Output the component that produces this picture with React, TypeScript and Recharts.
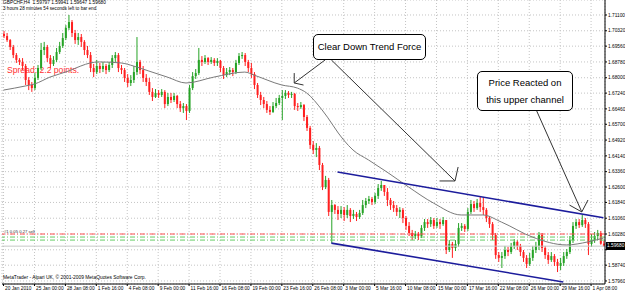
import React from 'react';
import { ComposedChart, Bar, Line, XAxis, YAxis, CartesianGrid, ReferenceLine } from 'recharts';

// GBPCHF H4 candles (oldest first)
const opens = [
  1.7016, 1.7006, 1.6986, 1.6952, 1.6912, 1.6888, 1.6878, 1.6858, 1.6789, 1.6764,
  1.6749, 1.6799, 1.6848, 1.6937, 1.6952, 1.6897, 1.6868, 1.6888, 1.6927, 1.6957,
  1.6996, 1.7046, 1.7075, 1.7021, 1.6986, 1.7001, 1.6977, 1.6937, 1.6912, 1.6848,
  1.6828, 1.6858, 1.6843, 1.6858, 1.6838, 1.6863, 1.6897, 1.6912, 1.6848, 1.6838,
  1.6799, 1.6774, 1.6789, 1.6828, 1.6878, 1.6838, 1.6799, 1.6779, 1.6730, 1.6705,
  1.6725, 1.6715, 1.6730, 1.6670, 1.6705, 1.6690, 1.6710, 1.6670, 1.6650, 1.6660,
  1.6636, 1.6749, 1.6808, 1.6823, 1.6888, 1.6878, 1.6897, 1.6878, 1.6888, 1.6873,
  1.6883, 1.6848, 1.6813, 1.6828, 1.6838, 1.6828, 1.6873, 1.6907, 1.6912, 1.6878,
  1.6848, 1.6818, 1.6764, 1.6715, 1.6690, 1.6670, 1.6641, 1.6631, 1.6660, 1.6675,
  1.6700, 1.6710, 1.6725, 1.6715, 1.6720, 1.6660, 1.6655, 1.6665, 1.6606, 1.6552,
  1.6468, 1.6443, 1.6453, 1.6369, 1.6260, 1.6295, 1.6137, 1.6171, 1.6147, 1.6127,
  1.6147, 1.6122, 1.6147, 1.6117, 1.6127, 1.6112, 1.6132, 1.6171, 1.6191, 1.6201,
  1.6186, 1.6216, 1.6255, 1.6270, 1.6236, 1.6196, 1.6171, 1.6156, 1.6137, 1.6147,
  1.6107, 1.6068, 1.6033, 1.6018, 1.6028, 1.6018, 1.6058, 1.6087, 1.6077, 1.6097,
  1.6068, 1.6087, 1.6077, 1.6097, 1.5949, 1.5979, 1.5959, 1.5979, 1.6058, 1.6068,
  1.6053, 1.6137, 1.6176, 1.6156, 1.6181, 1.6161, 1.6147, 1.6107, 1.6077, 1.6023,
  1.5924, 1.5910, 1.5919, 1.5949, 1.5939, 1.5969, 1.5989, 1.5969, 1.5939, 1.5910,
  1.5880, 1.5910, 1.5949, 1.5969, 1.6023, 1.5959, 1.5924, 1.5900, 1.5919, 1.5890,
  1.5870, 1.5885, 1.5919, 1.5939, 1.5998, 1.6068, 1.6087, 1.6072, 1.6097, 1.6077,
  1.5979, 1.5998, 1.6018, 1.6033, 1.5980,
];

const highs = [
  1.7031, 1.7021, 1.6991, 1.6962, 1.6922, 1.6897, 1.6897, 1.6868, 1.6803, 1.6779,
  1.6823, 1.6863, 1.6972, 1.6977, 1.6962, 1.6912, 1.6907, 1.6947, 1.6977, 1.7021,
  1.7060, 1.7110, 1.7085, 1.7036, 1.7021, 1.7016, 1.6986, 1.6957, 1.6927, 1.6868,
  1.6888, 1.6873, 1.6878, 1.6868, 1.6878, 1.6912, 1.6927, 1.6922, 1.6863, 1.6848,
  1.6818, 1.6813, 1.6858, 1.7001, 1.6888, 1.6858, 1.6818, 1.6799, 1.6749, 1.6744,
  1.6739, 1.6744, 1.6739, 1.6725, 1.6725, 1.6725, 1.6715, 1.6685, 1.6675, 1.6670,
  1.6764, 1.6828, 1.6843, 1.6947, 1.6907, 1.6912, 1.6902, 1.6902, 1.6897, 1.6897,
  1.6888, 1.6858, 1.6848, 1.6853, 1.6848, 1.6888, 1.6922, 1.6927, 1.6922, 1.6888,
  1.6873, 1.6828, 1.6774, 1.6730, 1.6705, 1.6685, 1.6660, 1.6680, 1.6700, 1.6715,
  1.6739, 1.6739, 1.6734, 1.6730, 1.6725, 1.6675, 1.6680, 1.6670, 1.6616, 1.6562,
  1.6487, 1.6477, 1.6463, 1.6379, 1.6315, 1.6305, 1.6196, 1.6176, 1.6166, 1.6166,
  1.6161, 1.6171, 1.6156, 1.6147, 1.6137, 1.6147, 1.6196, 1.6206, 1.6216, 1.6211,
  1.6231, 1.6275, 1.6290, 1.6270, 1.6255, 1.6206, 1.6191, 1.6171, 1.6161, 1.6156,
  1.6117, 1.6087, 1.6048, 1.6043, 1.6038, 1.6072, 1.6102, 1.6102, 1.6112, 1.6107,
  1.6107, 1.6102, 1.6112, 1.6097, 1.5998, 1.5989, 1.5998, 1.6082, 1.6082, 1.6077,
  1.6156, 1.6196, 1.6191, 1.6201, 1.6211, 1.6211, 1.6156, 1.6117, 1.6087, 1.6033,
  1.5939, 1.5939, 1.5969, 1.5964, 1.5984, 1.6003, 1.5998, 1.5979, 1.5949, 1.5924,
  1.5934, 1.5969, 1.5989, 1.6038, 1.6033, 1.5969, 1.5939, 1.5939, 1.5929, 1.5905,
  1.5910, 1.5939, 1.5954, 1.6018, 1.6087, 1.6102, 1.6102, 1.6122, 1.6107, 1.6087,
  1.6028, 1.6038, 1.6048, 1.6043, 1.5994,
];

const lows = [
  1.6996, 1.6977, 1.6937, 1.6897, 1.6873, 1.6863, 1.6838, 1.6764, 1.6739, 1.6730,
  1.6739, 1.6789, 1.6838, 1.6912, 1.6878, 1.6848, 1.6858, 1.6878, 1.6917, 1.6947,
  1.6986, 1.7036, 1.7001, 1.6967, 1.6962, 1.6952, 1.6912, 1.6897, 1.6828, 1.6803,
  1.6818, 1.6823, 1.6828, 1.6818, 1.6828, 1.6848, 1.6878, 1.6828, 1.6818, 1.6779,
  1.6754, 1.6759, 1.6774, 1.6813, 1.6818, 1.6779, 1.6759, 1.6715, 1.6685, 1.6700,
  1.6700, 1.6705, 1.6650, 1.6660, 1.6675, 1.6680, 1.6650, 1.6631, 1.6626, 1.6591,
  1.6626, 1.6739, 1.6794, 1.6813, 1.6858, 1.6868, 1.6863, 1.6868, 1.6858, 1.6858,
  1.6828, 1.6794, 1.6803, 1.6813, 1.6808, 1.6818, 1.6863, 1.6893, 1.6858, 1.6828,
  1.6799, 1.6744, 1.6700, 1.6665, 1.6650, 1.6626, 1.6616, 1.6626, 1.6650, 1.6665,
  1.6591, 1.6695, 1.6700, 1.6700, 1.6641, 1.6636, 1.6646, 1.6586, 1.6537, 1.6448,
  1.6423, 1.6408, 1.6344, 1.6245, 1.6250, 1.6117, 1.5984, 1.6127, 1.6097, 1.6107,
  1.6092, 1.6107, 1.6087, 1.6102, 1.6092, 1.6102, 1.6122, 1.6156, 1.6176, 1.6171,
  1.6176, 1.6201, 1.6241, 1.6216, 1.6166, 1.6147, 1.6137, 1.6117, 1.6107, 1.6082,
  1.6048, 1.6018, 1.5998, 1.6003, 1.5998, 1.6008, 1.6043, 1.6058, 1.6063, 1.6053,
  1.6058, 1.6053, 1.6068, 1.5929, 1.5939, 1.5910, 1.5944, 1.5964, 1.6043, 1.6038,
  1.6043, 1.6127, 1.6137, 1.6147, 1.6137, 1.6122, 1.6087, 1.6058, 1.5998, 1.5905,
  1.5890, 1.5860, 1.5905, 1.5919, 1.5929, 1.5954, 1.5949, 1.5919, 1.5890, 1.5860,
  1.5870, 1.5895, 1.5934, 1.5949, 1.5939, 1.5905, 1.5880, 1.5890, 1.5870, 1.5840,
  1.5850, 1.5870, 1.5905, 1.5929, 1.5984, 1.6053, 1.6058, 1.6063, 1.6058, 1.5924,
  1.5964, 1.5984, 1.5998, 1.5975, 1.5965,
];

const closes = [
  1.7006, 1.6986, 1.6952, 1.6912, 1.6888, 1.6878, 1.6858, 1.6789, 1.6764, 1.6749,
  1.6799, 1.6848, 1.6937, 1.6952, 1.6897, 1.6868, 1.6888, 1.6927, 1.6957, 1.6996,
  1.7046, 1.7075, 1.7021, 1.6986, 1.7001, 1.6977, 1.6937, 1.6912, 1.6848, 1.6828,
  1.6858, 1.6843, 1.6858, 1.6838, 1.6863, 1.6897, 1.6912, 1.6848, 1.6838, 1.6799,
  1.6774, 1.6789, 1.6828, 1.6878, 1.6838, 1.6799, 1.6779, 1.6730, 1.6705, 1.6725,
  1.6715, 1.6730, 1.6670, 1.6705, 1.6690, 1.6710, 1.6670, 1.6650, 1.6660, 1.6636,
  1.6749, 1.6808, 1.6823, 1.6888, 1.6878, 1.6897, 1.6878, 1.6888, 1.6873, 1.6883,
  1.6848, 1.6813, 1.6828, 1.6838, 1.6828, 1.6873, 1.6907, 1.6912, 1.6878, 1.6848,
  1.6818, 1.6764, 1.6715, 1.6690, 1.6670, 1.6641, 1.6631, 1.6660, 1.6675, 1.6700,
  1.6710, 1.6725, 1.6715, 1.6720, 1.6660, 1.6655, 1.6665, 1.6606, 1.6552, 1.6468,
  1.6443, 1.6453, 1.6369, 1.6260, 1.6295, 1.6137, 1.6171, 1.6147, 1.6127, 1.6147,
  1.6122, 1.6147, 1.6117, 1.6127, 1.6112, 1.6132, 1.6171, 1.6191, 1.6201, 1.6186,
  1.6216, 1.6255, 1.6270, 1.6236, 1.6196, 1.6171, 1.6156, 1.6137, 1.6147, 1.6107,
  1.6068, 1.6033, 1.6018, 1.6028, 1.6018, 1.6058, 1.6087, 1.6077, 1.6097, 1.6068,
  1.6087, 1.6077, 1.6097, 1.5949, 1.5979, 1.5959, 1.5979, 1.6058, 1.6068, 1.6053,
  1.6137, 1.6176, 1.6156, 1.6181, 1.6161, 1.6147, 1.6107, 1.6077, 1.6023, 1.5924,
  1.5910, 1.5919, 1.5949, 1.5939, 1.5969, 1.5989, 1.5969, 1.5939, 1.5910, 1.5880,
  1.5910, 1.5949, 1.5969, 1.6023, 1.5959, 1.5924, 1.5900, 1.5919, 1.5890, 1.5870,
  1.5885, 1.5919, 1.5939, 1.5998, 1.6068, 1.6087, 1.6072, 1.6097, 1.6077, 1.5979,
  1.5998, 1.6018, 1.6033, 1.5980, 1.5968,
];

// moving average, read at a few bars and joined
const maBars = [0, 7, 10, 15, 21, 25, 28, 31, 38, 42, 47, 53, 59, 68, 78, 81, 90, 95, 98, 103, 110, 113, 118, 124, 131, 139, 148, 155, 161, 171, 182, 189, 194];
const maValues = [1.6739, 1.6759, 1.6769, 1.6803, 1.6833, 1.6858, 1.6873, 1.6878, 1.6873, 1.6858, 1.6833, 1.6803, 1.6774, 1.6803, 1.6828, 1.6813, 1.6764, 1.6749, 1.6725, 1.6641, 1.6492, 1.6443, 1.6394, 1.6334, 1.6260, 1.6181, 1.6122, 1.6122, 1.6087, 1.6013, 1.5974, 1.5989, 1.6008];

const timeLabels = [
  '20 Jan 2010', '25 Jan 00:00', '28 Jan 08:00', '1 Feb 16:00', '4 Feb 08:00', '9 Feb 00:00',
  '11 Feb 16:00', '16 Feb 08:00', '19 Feb 00:00', '23 Feb 16:00', '26 Feb 08:00', '3 Mar 00:00',
  '5 Mar 16:00', '10 Mar 08:00', '15 Mar 00:00', '17 Mar 16:00', '22 Mar 08:00', '26 Mar 00:00',
  '29 Mar 16:00', '1 Apr 08:00',
];

const priceTicks = [1.711, 1.7032, 1.6956, 1.6878, 1.68, 1.6724, 1.6646, 1.657, 1.6492, 1.6414, 1.6336, 1.626, 1.6184, 1.6106, 1.6028, 1.595, 1.5874, 1.5796];

const lastPrice = 1.5968;
const sellLevel = 1.6028;
const greenLevels = [1.6013, 1.5998];

const GREEN = '#26a326';
const RED = '#ff1f1f';
const FONT = '"Liberation Sans", Arial, sans-serif';

const data = closes.map((c, i) => {
  const k = maBars.indexOf(i);
  return { i, open: opens[i], high: highs[i], low: lows[i], close: c, ma: k >= 0 ? maValues[k] : null };
});

function Candle(props: any) {
  const { x, y, width, height, payload } = props;
  const { open, high, low, close } = payload;
  const top = Math.min(y, y + height);
  const h = Math.abs(height);
  const k = h / (high - low || 1);
  const py = (p: number) => top + (high - p) * k;
  const col = close >= open ? GREEN : RED;
  const bTop = py(Math.max(open, close));
  const bBot = py(Math.min(open, close));
  const cx = x + width / 2;
  return (
    <g>
      <line x1={cx} x2={cx} y1={top} y2={top + h} stroke={col} strokeWidth={1} />
      <rect x={x} y={bTop} width={width} height={Math.max(1, bBot - bTop)} fill={col} />
    </g>
  );
}

function TimeTick({ x, y, payload }: any) {
  return (
    <text x={x + 1.5} y={y + 3.5} fontSize={4.8} fill="#000" textAnchor="start" fontFamily={FONT}>
      {timeLabels[payload.value / 10]}
    </text>
  );
}

const txt = (extra: React.CSSProperties): React.CSSProperties => ({
  position: 'absolute', fontFamily: FONT, whiteSpace: 'nowrap', lineHeight: 1, ...extra,
});

export default function App() {
  return (
    <div style={{ position: 'absolute', left: 0, top: 0, width: 625, height: 291, background: '#fff', overflow: 'hidden' }}>
      <div style={txt({ left: 7, top: 66, fontSize: 8.6, color: '#ff3030' })}>Spread: 2.2 points.</div>

      <div style={{ position: 'absolute', left: 0, top: 0 }}>
        <ComposedChart width={625} height={291} data={data} margin={{ top: 0, right: 0, bottom: 0, left: 2 }}>
          <CartesianGrid stroke="#c4c4c4" strokeDasharray="1 2" />
          <XAxis
            dataKey="i"
            interval={9}
            height={7}
            tickSize={2}
            tickMargin={0}
            tick={<TimeTick />}
            axisLine={{ stroke: '#000' }}
            tickLine={{ stroke: '#000' }}
          />
          <YAxis
            orientation="right"
            type="number"
            domain={[1.5781, 1.7184]}
            allowDataOverflow
            ticks={priceTicks}
            interval={0}
            width={20}
            tickSize={2}
            tickMargin={1}
            axisLine={{ stroke: '#000' }}
            tickLine={{ stroke: '#000' }}
            tick={{ fontSize: 4.8, fill: '#000', fontFamily: FONT }}
            tickFormatter={(v: number) => (v === 1.595 ? '' : v.toFixed(5))}
          />

          <ReferenceLine y={sellLevel} stroke="#ff5050" strokeDasharray="5 2 1 2" />
          {greenLevels.map((g) => (
            <ReferenceLine key={g} y={g} stroke="#66cc66" strokeDasharray="5 2 1 2" />
          ))}
          <ReferenceLine y={lastPrice} stroke="#c8c8c8" />

          <Line dataKey="ma" type="monotone" stroke="#7a7a7a" strokeWidth={1} dot={false} connectNulls isAnimationActive={false} />
          <Bar
            dataKey={(d: any) => [d.low, d.high]}
            barSize={2}
            shape={(p: any) => <Candle {...p} />}
            isAnimationActive={false}
          />

          {/* channel */}
          <ReferenceLine segment={[{ x: 108, y: 1.6334 }, { x: 194, y: 1.6108 }]} stroke="#1c1c9c" strokeWidth={1.6} />
          <ReferenceLine segment={[{ x: 106, y: 1.5983 }, { x: 181, y: 1.5791 }]} stroke="#1c1c9c" strokeWidth={1.6} />

          {/* arrows */}
          <ReferenceLine segment={[{ x: 104, y: 1.6888 }, { x: 94, y: 1.6774 }]} stroke="#333" />
          <ReferenceLine segment={[{ x: 94, y: 1.6774 }, { x: 94, y: 1.6823 }]} stroke="#333" />
          <ReferenceLine segment={[{ x: 94, y: 1.6774 }, { x: 97, y: 1.6764 }]} stroke="#333" />
          <ReferenceLine segment={[{ x: 106, y: 1.6888 }, { x: 146, y: 1.629 }]} stroke="#333" />
          <ReferenceLine segment={[{ x: 146, y: 1.629 }, { x: 147, y: 1.6359 }]} stroke="#333" />
          <ReferenceLine segment={[{ x: 146, y: 1.629 }, { x: 141, y: 1.629 }]} stroke="#333" />
          <ReferenceLine segment={[{ x: 172, y: 1.665 }, { x: 187, y: 1.6137 }]} stroke="#333" />
          <ReferenceLine segment={[{ x: 187, y: 1.6137 }, { x: 183, y: 1.6171 }]} stroke="#333" />
          <ReferenceLine segment={[{ x: 187, y: 1.6137 }, { x: 189, y: 1.6196 }]} stroke="#333" />
        </ComposedChart>
      </div>

      <div style={txt({ left: 3, top: 1, fontSize: 4.8, color: '#000' })}>GBPCHF,H4&nbsp; 1.59797 1.59941 1.59647 1.59680</div>
      <div style={txt({ left: 3, top: 7, fontSize: 4.6, color: '#000' })}>3 hours 28 minutes 54 seconds left to bar end</div>
      <div style={txt({ left: 3, top: 276, fontSize: 4.9, color: '#000' })}>MetaTrader - Alpari UK, © 2001-2009 MetaQuotes Software Corp.</div>
      <div style={txt({ left: 4, top: 230, fontSize: 4.2, color: '#333' })}>#1 0.05 0.27 sell</div>

      <div style={txt({ left: 606, top: 242, width: 19, height: 8, background: '#000', color: '#fff', fontSize: 4.8, paddingTop: 1.5, boxSizing: 'border-box', paddingLeft: 1 })}>1.59680</div>

      <div style={txt({ left: 313, top: 34, width: 113, height: 26, border: '1px solid #000', borderRadius: 5, background: '#fff', boxSizing: 'border-box', fontSize: 9.5, display: 'flex', alignItems: 'center', justifyContent: 'center' })}>
        Clear Down Trend Force
      </div>
      <div style={txt({ left: 477, top: 71, width: 96, height: 40, border: '1px solid #000', borderRadius: 5, background: '#fff', boxSizing: 'border-box', fontSize: 9.5, display: 'flex', flexDirection: 'column', alignItems: 'center', justifyContent: 'center', lineHeight: 1.8, whiteSpace: 'normal', textAlign: 'center' })}>
        <span>Price Reacted on</span>
        <span>this upper channel</span>
      </div>
    </div>
  );
}
